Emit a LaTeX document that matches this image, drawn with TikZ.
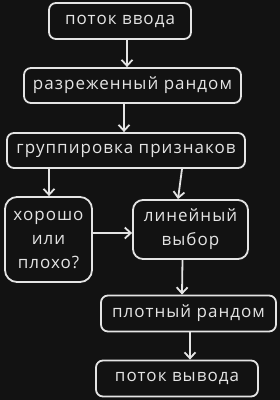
\documentclass[tikz,border=0pt]{standalone}
\usepackage{fontspec}
\setmainfont{Open Sans}[LetterSpace=6]
\usetikzlibrary{arrows.meta}
\definecolor{bgdark}{HTML}{121212}
\definecolor{chalk}{HTML}{E4E4E4}

\begin{document}
\begin{tikzpicture}[x=1pt, y=-1pt,
    box/.style={draw=chalk, line width=1.8pt, rounded corners=7pt, text=chalk,
        font=\fontsize{17}{24}\selectfont, inner sep=0pt, align=center},
    arr/.style={draw=chalk, line width=1.8pt, -{Straight Barb[length=6pt,width=11pt]}}]
    \fill[bgdark] (0,0) rectangle (280,400);

    \node[box, minimum width=142pt, minimum height=36pt] (src) at (120,21) {поток ввода};
    \node[box, minimum width=217pt, minimum height=35pt] (sparse) at (132.5,85.5) {разреженный рандом};
    \node[box, minimum width=238pt, minimum height=35pt] (group) at (126,150.5) {группировка признаков};
    \node[box, minimum width=87pt, minimum height=85pt, rounded corners=12pt] (good) at (48.5,239.5) {хорошо\\или\\плохо?};
    \node[box, minimum width=115pt, minimum height=59pt, rounded corners=10pt] (linear) at (190.5,229.5) {линейный\\выбор};
    \node[box, minimum width=175pt, minimum height=36pt] (dense) at (188.5,313.5) {плотный рандом};
    \node[box, minimum width=162pt, minimum height=36pt] (out) at (177,378.5) {поток вывода};

    \draw[arr] ([xshift=7pt]src.south) -- ([xshift=-5.5pt]sparse.north);
    \draw[arr] ([xshift=-8.5pt]sparse.south) -- ([xshift=-2pt]group.north);
    \draw[arr] ([xshift=-77pt]group.south) -- ([xshift=0.5pt]good.north);
    \draw[arr] ([xshift=56pt]group.south) -- ([xshift=-12.5pt]linear.north);
    \draw[arr] ([yshift=6.5pt]good.east) -- ([yshift=-3.5pt]linear.west);
    \draw[arr] ([xshift=-8pt]linear.south) -- ([xshift=-6.5pt]dense.north);
    \draw[arr] ([xshift=1.5pt]dense.south) -- ([xshift=13pt]out.north);
\end{tikzpicture}
\end{document}
